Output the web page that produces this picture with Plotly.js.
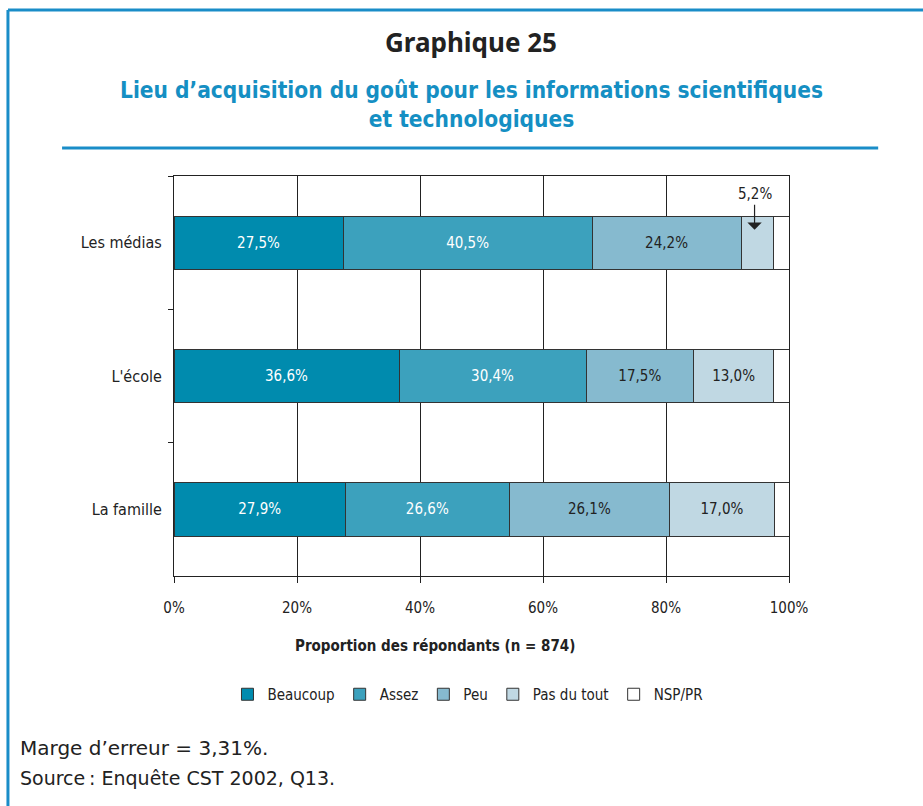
<!DOCTYPE html>
<html>
<head>
<meta charset="utf-8">
<script src="https://cdn.plot.ly/plotly-3.0.1.min.js"></script>
<style>
html,body{margin:0;padding:0;background:#fff;}
#chart{width:923px;height:806px;}
</style>
</head>
<body>
<div id="chart"></div>
<script>
const categories = ["Les médias", "L'école", "La famille"];
const seriesNames = ["Beaucoup", "Assez", "Peu", "Pas du tout", "NSP/PR"];
const beaucoup = [27.5, 36.6, 27.9];
const assez = [40.5, 30.4, 26.6];
const peu = [24.2, 17.5, 26.1];
const pasDuTout = [5.2, 13.0, 17.0];
const nspPr = [2.6, 2.5, 2.4];
const xTickVals = [0, 20, 40, 60, 80, 100];

const colors = ["#008bae", "#3ca1bd", "#86bacf", "#c0d8e3", "#ffffff"];
const textColors = ["#ffffff", "#ffffff", "#222222", "#222222", "#222222"];
const allValues = [beaucoup, assez, peu, pasDuTout, nspPr];
const FONT = "'Liberation Sans Narrow', 'DejaVu Sans Condensed', 'Roboto', sans-serif";
const FOOT = "'DejaVu Sans', sans-serif";

function fmt(v){ return v.toFixed(1).replace('.', ',') + '%'; }

const traces = allValues.map((vals, i) => ({
  type: 'bar',
  orientation: 'h',
  name: seriesNames[i],
  y: categories,
  x: vals,
  width: 0.4,
  marker: {color: colors[i], line: {color: '#333333', width: 1}},
  text: vals.map(v => (i < 4 && v >= 10) ? fmt(v) : ''),
  textposition: 'inside',
  insidetextanchor: 'middle',
  textfont: {family: FONT, size: 15, color: textColors[i]},
  hoverinfo: 'none'
}));

// position of the small "Pas du tout" value for Les médias
const smallStart = beaucoup[0] + assez[0] + peu[0];
const smallMid = smallStart + pasDuTout[0] / 2;

const layout = {
  width: 923, height: 806,
  margin: {l: 174, r: 134, t: 176, b: 230},
  paper_bgcolor: '#ffffff', plot_bgcolor: '#ffffff',
  barmode: 'stack',
  showlegend: true,
  font: {family: FONT, color: '#222222'},
  xaxis: {
    range: [0, 100], tickvals: xTickVals, ticktext: xTickVals.map(v => v + '%'),
    ticks: 'outside', ticklen: 6, tickcolor: '#222', tickwidth: 1,
    showgrid: true, gridcolor: '#222222', gridwidth: 1,
    showline: true, linecolor: '#222222', linewidth: 1, mirror: true,
    zeroline: false, fixedrange: true,
    tickfont: {family: FONT, size: 15, color: '#222'},
    ticklabelstandoff: 12
  },
  yaxis: {
    type: 'category', autorange: 'reversed',
    tickson: 'boundaries', ticks: 'outside', ticklen: 5, tickcolor: '#222',
    showgrid: false, showline: true, linecolor: '#222222', linewidth: 1, mirror: true,
    zeroline: false, fixedrange: true,
    tickfont: {family: FONT, size: 16, color: '#222'},
    ticklabelstandoff: 8
  },
  legend: {
    orientation: 'h', x: 0.478, xanchor: 'center', y: -0.255, yanchor: 'top',
    font: {family: FONT, size: 15, color: '#222'},
    traceorder: 'normal', itemwidth: 30
  },
  annotations: [
    {text: '<b>Graphique 25</b>', xref: 'paper', yref: 'paper', x: 0.483, y: 1.335,
     xanchor: 'center', yanchor: 'middle',
     showarrow: false, font: {family: "'Noto Sans', 'DejaVu Sans', sans-serif", size: 26, color: '#222'}},
    {text: '<b>Lieu d’acquisition du goût pour les informations scientifiques<br>et technologiques</b>',
     xref: 'paper', yref: 'paper', x: 0.483, y: 1.18, xanchor: 'center', yanchor: 'middle', showarrow: false,
     font: {family: FONT, size: 22.5, color: '#158fc3'}},
    {text: '<b>Proportion des répondants (n = 874)</b>', xref: 'paper', yref: 'paper',
     x: 0.424, y: -0.175, xanchor: 'center', yanchor: 'middle',
     showarrow: false, font: {family: FONT, size: 15, color: '#222'}},
    {text: fmt(pasDuTout[0]), x: smallMid - 0.4, y: categories[0], xref: 'x', yref: 'y',
     ax: 0, ay: -38, showarrow: true, arrowhead: 1, arrowsize: 2, arrowwidth: 1.2,
     arrowcolor: '#222', standoff: 13, yanchor: 'bottom',
     font: {family: FONT, size: 15, color: '#222'}},
    {text: 'Marge d’erreur = 3,31%.', xref: 'paper', yref: 'paper', x: -0.253, y: -0.43,
     xanchor: 'left', yanchor: 'middle', showarrow: false, font: {family: FOOT, size: 20, color: '#222'}},
    {text: 'Source\u202F: Enquête CST 2002, Q13.', xref: 'paper', yref: 'paper', x: -0.253, y: -0.505,
     xanchor: 'left', yanchor: 'middle', showarrow: false, font: {family: FOOT, size: 19, color: '#222'}}
  ],
  shapes: [
    {type: 'line', xref: 'paper', yref: 'paper', x0: -0.182, x1: 1.145, y0: 1.07, y1: 1.07,
     line: {color: '#1a8dc8', width: 3}},
    {type: 'line', xref: 'paper', yref: 'paper', x0: -0.27, x1: 1.3, y0: 1.415, y1: 1.415,
     line: {color: '#1a8dc8', width: 3}},
    {type: 'line', xref: 'paper', yref: 'paper', x0: -0.27, x1: -0.27, y0: 1.415, y1: -0.6,
     line: {color: '#1a8dc8', width: 3}}
  ]
};

Plotly.newPlot('chart', traces, layout, {displayModeBar: false, staticPlot: true});
</script>
</body>
</html>
